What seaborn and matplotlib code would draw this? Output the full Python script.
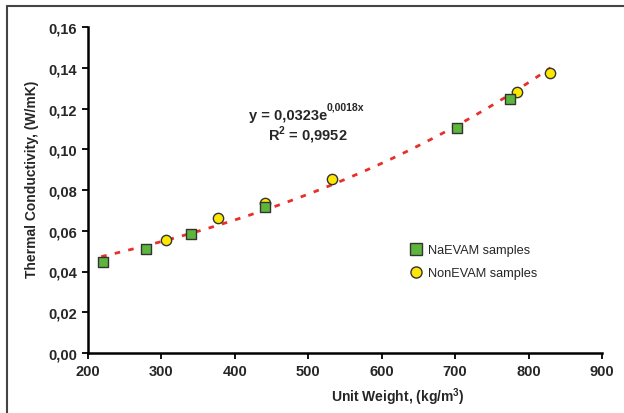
import numpy as np
import pandas as pd
import matplotlib
matplotlib.use("Agg")
import matplotlib.pyplot as plt
import seaborn as sns
from matplotlib.ticker import FuncFormatter, MultipleLocator
from matplotlib.lines import Line2D

# Data
na_weight = [221, 279, 340, 441, 702, 775]
na_cond = [0.0445, 0.0510, 0.0584, 0.0718, 0.1102, 0.1245]
non_weight = [306, 377, 441, 532, 784, 829]
non_cond = [0.0556, 0.0663, 0.0734, 0.0852, 0.1280, 0.1375]
series_names = ["NaEVAM samples", "NonEVAM samples"]
equation_main = "y = 0,0323e"
equation_exp = "0,0018x"
r2_text = "R$^{2}$ = 0,9952"
trend_range = [218, 830]

sns.set_theme(style="white")
plt.rcParams['font.family'] = ['Liberation Sans', 'DejaVu Sans']
plt.rcParams['mathtext.fontset'] = 'custom'
plt.rcParams['mathtext.rm'] = 'Liberation Sans:bold'
plt.rcParams['mathtext.bf'] = 'Liberation Sans:bold'

df = pd.DataFrame({
    "weight": na_weight + non_weight,
    "cond": na_cond + non_cond,
    "group": [series_names[0]] * len(na_weight) + [series_names[1]] * len(non_weight),
})

fig = plt.figure(figsize=(6.24, 4.14), dpi=100)
ax = fig.add_axes([88 / 624, 1 - 354 / 414, 514 / 624, 326 / 414])

# exponential trendline fitted to all data
allx = np.array(df["weight"], dtype=float)
ally = np.array(df["cond"], dtype=float)
b, loga = np.polyfit(allx, np.log(ally), 1)
tx = np.linspace(trend_range[0], trend_range[1], 200)
ty = np.exp(loga) * np.exp(b * tx)
sns.lineplot(x=tx, y=ty, ax=ax, color="#E8302A", linewidth=2.0,
             linestyle=(0, (2, 3)), zorder=2)

green = "#5DB53C"
yellow = "#FFE800"
edge = "#333333"
sns.scatterplot(data=df[df.group == series_names[1]], x="weight", y="cond",
                marker="o", s=55, color=yellow, edgecolor=edge, linewidth=1.0,
                ax=ax, zorder=3, legend=False)
sns.scatterplot(data=df[df.group == series_names[0]], x="weight", y="cond",
                marker="s", s=55, color=green, edgecolor=edge, linewidth=1.0,
                ax=ax, zorder=4, legend=False)

ax.set_xlim(200, 900)
ax.set_ylim(0, 0.16)
ax.xaxis.set_major_locator(MultipleLocator(100))
ax.yaxis.set_major_locator(MultipleLocator(0.02))
ax.yaxis.set_major_formatter(FuncFormatter(lambda v, p: f"{v:.2f}".replace(".", ",")))
ax.xaxis.set_major_formatter(FuncFormatter(lambda v, p: f"{int(round(v))}"))

for s in ["top", "right"]:
    ax.spines[s].set_visible(False)
for s in ["left", "bottom"]:
    ax.spines[s].set_color("black")
    ax.spines[s].set_linewidth(1.8)
ax.tick_params(axis="both", which="major", direction="out", length=4, width=1.3,
               color="black", labelsize=10.5, pad=4, bottom=True, left=True)
for lab in ax.get_xticklabels() + ax.get_yticklabels():
    lab.set_fontweight("bold")

ax.set_xlabel("Unit Weight, (kg/m$^{3}$)", fontsize=10, fontweight="bold")
ax.set_ylabel("Thermal Conductivity, (W/mK)", fontsize=10, fontweight="bold")
ax.xaxis.set_label_coords((398 - 88) / 514, (354 - 386) / 326)
ax.yaxis.set_label_coords((39 - 88) / 514, (354 - 179) / 326)

# equation annotation
def fx(px):
    return px / 624
def fy(py):
    return 1 - py / 414
fig.text(fx(327), fy(116), equation_main, ha="right", va="center",
         fontsize=10.5, fontweight="bold")
fig.text(fx(327), fy(108), equation_exp, ha="left", va="center",
         fontsize=7.5, fontweight="bold")
fig.text(fx(268), fy(135), r2_text, ha="left", va="center",
         fontsize=10.5, fontweight="bold")

handles = [
    Line2D([0], [0], marker="s", linestyle="none", markersize=8,
           markerfacecolor=green, markeredgecolor=edge, markeredgewidth=1.0),
    Line2D([0], [0], marker="o", linestyle="none", markersize=8,
           markerfacecolor=yellow, markeredgecolor=edge, markeredgewidth=1.0),
]
leg = ax.legend(handles, series_names, loc="upper left",
                bbox_to_anchor=((405 - 88) / 514, (354 - 240) / 326),
                frameon=False, fontsize=9.2, handletextpad=0.4,
                labelspacing=0.85, handlelength=1.0, borderaxespad=0)

# outer frame (left and top edges visible)
fig.add_artist(Line2D([fx(7), fx(7)], [fy(7), 0], color="#444444", linewidth=1.5))
fig.add_artist(Line2D([fx(7), 1], [fy(7), fy(7)], color="#444444", linewidth=1.5))

fig.savefig("out.png", dpi=100)
